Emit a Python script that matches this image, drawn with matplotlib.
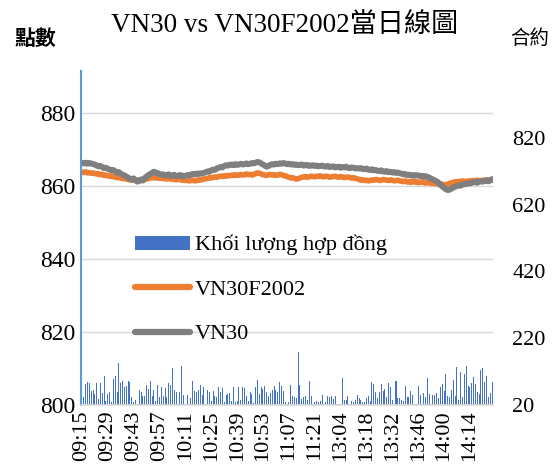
import matplotlib
matplotlib.use("Agg")
import matplotlib.pyplot as plt
import pandas as pd
from matplotlib.patches import Patch
from matplotlib.lines import Line2D

# minute categories: morning session + afternoon session (lunch gap skipped)
morning = pd.date_range("09:15", "11:30", freq="min")
afternoon = pd.date_range("13:00", "14:26", freq="min")
times = [t.strftime("%H:%M") for t in morning.append(afternoon)]

# VN30 index
vn30 = [
    866.3, 866.2, 866.4, 866.1, 866.3, 866.2, 866.0, 865.9,
    865.6, 865.4, 865.5, 865.2, 864.9, 865.0, 864.7, 864.5, 864.3, 864.4,
    864.0, 863.7, 863.8, 863.4, 863.1, 862.9, 862.6, 862.3,
    862.0, 861.8, 862.1, 861.6, 861.2, 861.4,
    861.8, 861.5, 862.2, 862.6, 863.0, 863.3, 863.6, 863.9, 863.7,
    863.5, 863.3, 863.1, 863.2, 862.9, 863.0, 863.2, 862.8, 862.9, 863.1,
    862.7, 862.8, 863.0, 862.9, 862.6, 862.8, 863.0, 862.9, 863.1, 863.3,
    863.2, 863.4, 863.3, 863.5, 863.4, 863.6,
    863.8, 864.0, 863.9, 864.3, 864.5, 864.4, 864.8, 865.0, 865.2, 865.1,
    865.5, 865.7, 865.6,
    865.8, 865.9, 865.7, 866.0, 865.8, 865.9, 866.1, 865.9, 866.0, 866.2,
    866.0, 866.1, 866.3, 866.2, 866.4,
    866.6, 866.5, 866.2, 865.9, 865.6,
    865.3, 865.5, 865.8, 866.0, 865.9, 866.1, 866.0, 866.2, 866.1, 866.3,
    866.2, 866.0, 866.1, 865.9, 866.0, 865.8,
    865.9, 865.7, 865.8, 865.9, 865.6, 865.7, 865.8, 865.5, 865.6, 865.7,
    865.5, 865.6, 865.4, 865.5, 865.6,
    865.4, 865.3, 865.5, 865.2, 865.3, 865.4, 865.1, 865.2, 865.3, 865.0,
    865.2, 865.1, 865.3, 865.0, 864.9, 865.1, 865.0, 864.8, 864.9,
    864.8, 864.9, 864.7, 864.6, 864.8, 864.5, 864.4, 864.6, 864.3, 864.4,
    864.2, 864.1, 864.3, 864.0, 863.9, 864.1, 863.8, 863.9, 863.7, 863.8,
    863.6, 863.7, 863.5,
    863.4, 863.2, 863.3, 863.0, 863.1, 862.9, 863.0, 862.8, 863.0, 862.9,
    862.7, 862.8, 862.6, 862.7, 862.5,
    862.3, 862.0, 861.8, 861.5, 861.3, 860.9, 860.4, 859.9, 859.5, 859.1,
    858.9,
    859.0, 859.3, 859.6, 859.8, 860.0, 860.2, 860.1, 860.4, 860.5, 860.6,
    860.8, 860.7, 860.9,
    861.0, 861.1, 860.9, 861.2, 861.3, 861.2, 861.4, 861.5, 861.3, 861.6,
    861.9,
]

# VN30F2002 futures
vn30f = [
    863.8, 863.7, 863.9, 863.6, 863.7, 863.5, 863.6, 863.4,
    863.3, 863.4, 863.1, 863.2, 862.9, 863.0, 862.8, 862.7, 862.8, 862.5,
    862.6, 862.3, 862.4, 862.2, 862.0, 862.1, 861.9, 861.8,
    861.7, 861.6, 861.8, 861.5, 861.6, 861.7, 861.5, 861.8, 862.0, 861.9,
    862.1, 862.3, 862.2, 862.4, 862.2,
    862.3, 862.1, 862.2, 862.0, 862.1, 861.9, 862.0, 862.1, 861.8, 861.9,
    861.7, 861.8, 861.9, 861.6, 861.7, 861.5, 861.6, 861.4, 861.5, 861.6,
    861.4, 861.5, 861.7, 861.6, 861.8, 861.9,
    862.0, 862.1, 862.3, 862.2, 862.4, 862.5, 862.4, 862.6, 862.7, 862.6,
    862.8, 862.7, 862.9,
    862.8, 863.0, 862.9, 863.1, 862.9, 863.0, 863.2, 863.0, 863.1, 863.3,
    863.1, 863.2, 863.0, 863.2, 863.4,
    863.6, 863.5, 863.3, 863.1, 863.0,
    862.9, 863.1, 863.2, 863.0, 863.1, 862.9, 863.0, 863.2, 863.1, 862.9,
    862.8, 862.6, 862.4, 862.2, 862.3, 862.1,
    861.9, 862.0, 862.2, 862.4, 862.5, 862.6, 862.4, 862.5, 862.7, 862.6,
    862.5, 862.7, 862.6, 862.8, 862.6,
    862.5, 862.7, 862.6, 862.4, 862.5, 862.6, 862.7, 862.5, 862.4, 862.6,
    862.5, 862.3, 862.4, 862.5, 862.3, 862.2, 862.3, 862.1, 862.0,
    861.8, 861.6, 861.7, 861.5, 861.6, 861.4, 861.5, 861.7, 861.6, 861.8,
    861.7, 861.5, 861.6, 861.8, 861.7, 861.6, 861.5, 861.7, 861.6, 861.4,
    861.5, 861.6, 861.4,
    861.3, 861.2, 861.4, 861.1, 861.2, 861.0, 861.3, 861.1, 861.2, 860.9,
    861.1, 861.0, 861.2, 860.8, 861.0,
    860.9, 860.7, 860.8, 860.6, 860.7, 860.5, 860.4, 860.5, 860.3, 860.4,
    860.5,
    860.7, 860.9, 861.0, 861.2, 861.1, 861.3, 861.2, 861.4, 861.3, 861.2,
    861.4, 861.3, 861.5,
    861.4, 861.5, 861.6, 861.4, 861.5, 861.6, 861.5, 861.7, 861.6, 861.5,
    861.6,
]

# contracts traded per minute
volume = [
    44, 44, 83, 89, 86, 62, 65, 53, 86, 38, 86, 56, 107, 32, 53, 59, 29, 98,
    107, 59, 146, 86, 92, 74, 77, 92, 89, 44, 29, 35, 23, 65, 59, 47, 47, 80,
    68, 92, 47, 65, 32, 80, 44, 74, 47, 71, 44, 86, 80, 131, 65, 59, 22, 59,
    137, 50, 22, 50,
    22, 41, 92, 62, 59, 65, 80, 50, 74, 22, 65, 59, 32, 62, 47, 44, 74, 59,
    71, 29, 50, 53, 56, 32, 74, 29, 32, 74, 35, 74, 71, 47, 32, 59, 53, 26,
    74, 95, 53, 74, 68, 77, 59, 47, 56, 65, 77, 65, 59, 89, 77, 62, 29, 23,
    29, 80, 47,
    44, 41, 179, 80, 38, 44, 47, 35, 92, 47, 23, 29, 32, 29, 32, 50, 22, 29,
    47, 44, 47, 38, 47, 22, 22, 22, 101, 35, 35, 47, 22, 32, 29, 35, 50, 41,
    35, 29, 29, 41, 47, 32, 89, 83, 59, 41, 59, 83, 62, 68, 44, 86, 74, 35,
    22, 92, 41, 41,
    35, 32, 77, 44, 44, 62, 50, 22, 22, 77, 50, 22, 56, 44, 101, 53, 22, 50,
    50, 56, 41, 74, 83, 62, 113, 47, 44, 65, 95, 47, 134, 35, 119, 44, 113,
    137, 77, 74, 86, 104, 83, 59, 53, 125, 131, 89, 107, 44, 56, 89,
]

assert len(times) == len(vn30) == len(vn30f) == len(volume)

serif = ["Liberation Serif", "Noto Sans CJK TC"]
blue = "#4472C4"
orange = "#ED7D31"
gray = "#7F7F7F"
grid = "#D9D9D9"

fig = plt.figure(figsize=(5.53, 4.67), dpi=100)
ax = fig.add_axes([0.1465, 0.1328, 0.745, 0.715])
ax2 = ax.twinx()

x = list(range(len(times)))

# volume bars on the right axis, drawn underneath the lines
ax2.bar(x, volume, width=0.55, color=blue, linewidth=0)
ax2.set_ylim(20, 1020)
ax2.set_yticks([20, 220, 420, 620, 820])

ax.set_zorder(ax2.get_zorder() + 1)
ax.patch.set_visible(False)

ax.plot(x, vn30f, color=orange, lw=4, solid_capstyle="round")
ax.plot(x, vn30, color=gray, lw=4.3, solid_capstyle="round")
ax.set_ylim(800, 891.5)
ax.set_yticks([800, 820, 840, 860, 880])
ax.set_xlim(-0.5, len(times) - 0.5)
ax.yaxis.grid(True, color=grid, lw=1)
ax.set_axisbelow(True)

ticks = x[::14]
ax.set_xticks(ticks)
ax.set_xticklabels([times[i] for i in ticks], rotation=90, family=serif, fontsize=16)

for lab in ax.get_yticklabels():
    lab.set_family(serif)
    lab.set_fontsize(17)
for lab in ax2.get_yticklabels():
    lab.set_family(serif)
    lab.set_fontsize(16)

ax.tick_params(length=0, pad=4)
ax2.tick_params(length=0, pad=14)

for s in ["top", "right"]:
    ax.spines[s].set_visible(False)
for s in ax2.spines.values():
    s.set_visible(False)
ax.spines["left"].set_color("#5B9BD5")
ax.spines["left"].set_linewidth(1.5)
ax.spines["bottom"].set_color(grid)
ax.spines["bottom"].set_linewidth(1.2)

handles = [
    Patch(facecolor=blue, edgecolor="none"),
    Line2D([], [], color=orange, lw=4.5, solid_capstyle="round"),
    Line2D([], [], color=gray, lw=4.5, solid_capstyle="round"),
]
labels = ["Khối lượng hợp đồng", "VN30F2002", "VN30"]
ax.legend(handles, labels, loc="upper left", bbox_to_anchor=(0.083, 0.569),
          frameon=False, prop={"family": serif, "size": 16},
          handlelength=2.45, handleheight=0.6, handletextpad=0.25,
          labelspacing=1.1)

fig.text(0.515, 0.945, "VN30 vs VN30F2002當日線圖", ha="center", va="center",
         family=serif, fontsize=19.5)
fig.text(0.027, 0.918, "點數", ha="left", va="center",
         family=["Noto Sans CJK TC"], fontsize=15, fontweight="bold")
fig.text(0.922, 0.918, "合約", ha="left", va="center",
         family=["Noto Sans CJK TC"], fontsize=14)

fig.savefig("out.png", dpi=100)
